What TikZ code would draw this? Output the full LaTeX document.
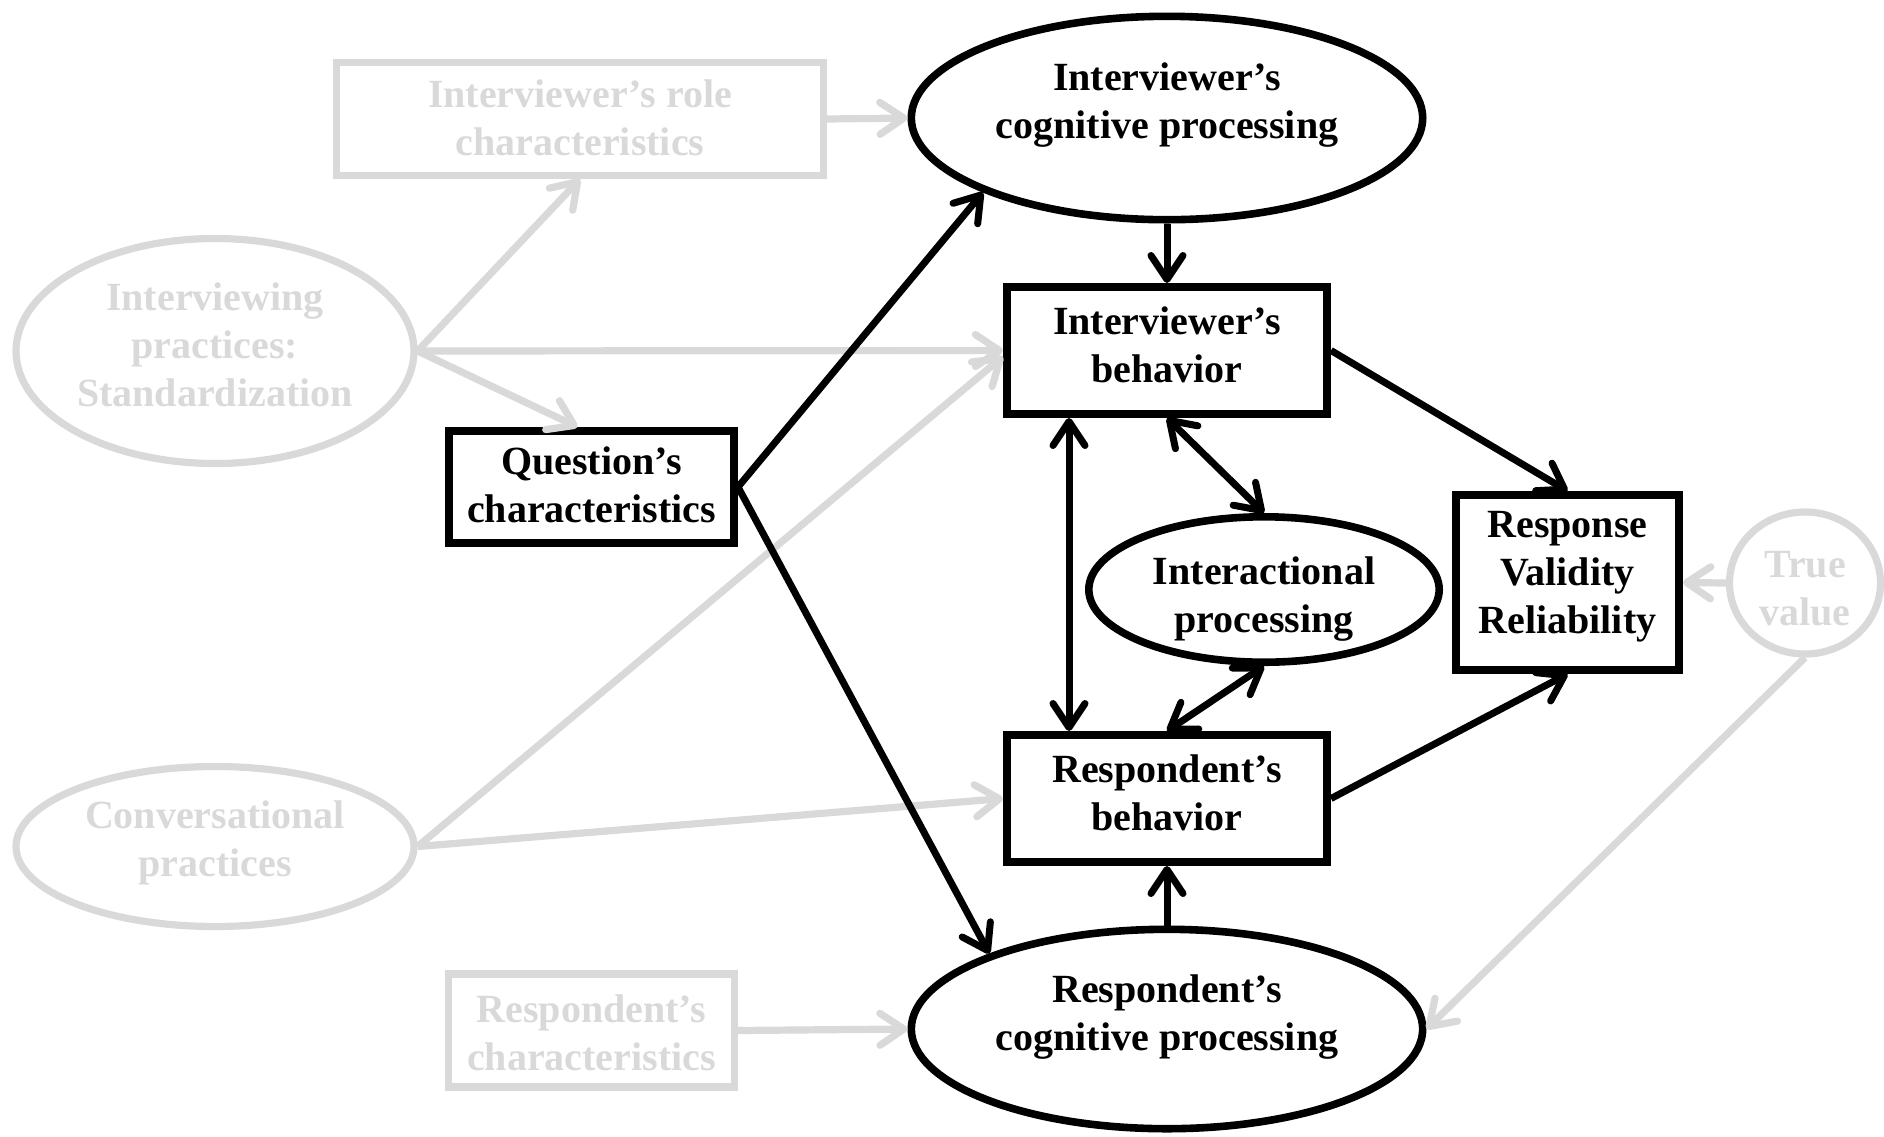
\documentclass[tikz,border=0pt]{standalone}
\usepackage{fontspec}
\setmainfont{Liberation Serif}
\usetikzlibrary{shapes, arrows.meta}
\definecolor{fadegray}{RGB}{217,217,217}

\begin{document}
\begin{tikzpicture}[
  x=0.5pt, y=-0.5pt,
  every node/.style={font=\fontsize{20}{24}\selectfont\bfseries, align=center, inner sep=0pt},
  solidbox/.style={draw, line width=3.8pt, rectangle},
  solidoval/.style={draw, line width=3.8pt, ellipse},
  fadebox/.style={draw=fadegray, text=fadegray, line width=3.6pt, rectangle},
  fadeoval/.style={draw=fadegray, text=fadegray, line width=3.6pt, ellipse},
  link/.style={-{Straight Barb[length=12pt,width=16pt,round]}, line width=3.5pt},
  twolink/.style={{Straight Barb[length=12pt,width=16pt,round]}-{Straight Barb[length=12pt,width=16pt,round]}, line width=3.5pt},
  fadelink/.style={link, draw=fadegray, line width=3.6pt}
]
  \useasboundingbox (0,0) rectangle (1884,1136);

  \node[solidoval, minimum width=255.7pt, minimum height=101.7pt, text depth=17pt] (icog) at (1167,118) {Interviewer's\\cognitive processing};
  \node[fadebox, minimum width=243.5pt, minimum height=56.5pt, text depth=1.5pt] (role) at (580,119) {Interviewer's role\\characteristics};
  \node[fadeoval, minimum width=199pt, minimum height=112.5pt, text depth=6pt] (ipract) at (215,351) {Interviewing\\practices:\\Standardization};
  \node[solidbox, minimum width=142.7pt, minimum height=56.2pt, text depth=2pt] (question) at (591.5,487) {Question's\\characteristics};
  \node[solidbox, minimum width=160.2pt, minimum height=63.7pt, text depth=6pt] (ibeh) at (1167,350.5) {Interviewer's\\behavior};
  \node[solidoval, minimum width=175.2pt, minimum height=61.7pt, text height=47pt] (inter) at (1264,589.5) {Interactional\\processing};
  \node[solidbox, minimum width=111.7pt, minimum height=87.7pt, text depth=10pt] (response) at (1567.5,582.5) {Response\\Validity\\Reliability};
  \node[fadeoval, minimum width=75.5pt, minimum height=71pt, text height=42.5pt] (truev) at (1805,583) {True\\value};
  \node[solidbox, minimum width=160.2pt, minimum height=63.7pt, text depth=6pt] (rbeh) at (1167,798.5) {Respondent's\\behavior};
  \node[fadeoval, minimum width=199pt, minimum height=80pt, text depth=8pt] (cpract) at (215,846.5) {Conversational\\practices};
  \node[fadebox, minimum width=143pt, minimum height=56.5pt, text height=40.5pt] (rchar) at (591.5,1030.5) {Respondent's\\characteristics};
  \node[solidoval, minimum width=255.7pt, minimum height=99.7pt, text depth=16pt] (rcog) at (1167,1029) {Respondent's\\cognitive processing};

  \draw[fadelink] (role.east) -- (icog.west);
  \draw[fadelink] (ipract.east) -- (role.south);
  \draw[fadelink] (ipract.east) -- (ibeh.west);
  \draw[fadelink] (ipract.east) -- ([xshift=-7pt]question.north);
  \draw[fadelink] (cpract.east) -- ([yshift=-3pt]ibeh.west);
  \draw[fadelink] (cpract.east) -- (rbeh.west);
  \draw[fadelink] (rchar.east) -- (rcog.west);
  \draw[fadelink] (truev.west) -- (response.east);
  \draw[fadelink] (truev.south) -- (rcog.east);

  \draw[link] (question.east) -- (icog.202);
  \draw[link] (question.east) -- (rcog.157);
  \draw[link] (icog.south) -- (ibeh.north);
  \draw[link] (ibeh.east) -- (response.north);
  \draw[twolink] ([xshift=33pt]ibeh.south west) -- ([xshift=33pt]rbeh.north west);
  \draw[twolink] (ibeh.south) -- (inter.north);
  \draw[twolink] (inter.south) -- (rbeh.north);
  \draw[link] (rbeh.east) -- (response.south);
  \draw[link] (rcog.north) -- (rbeh.south);
\end{tikzpicture}
\end{document}
